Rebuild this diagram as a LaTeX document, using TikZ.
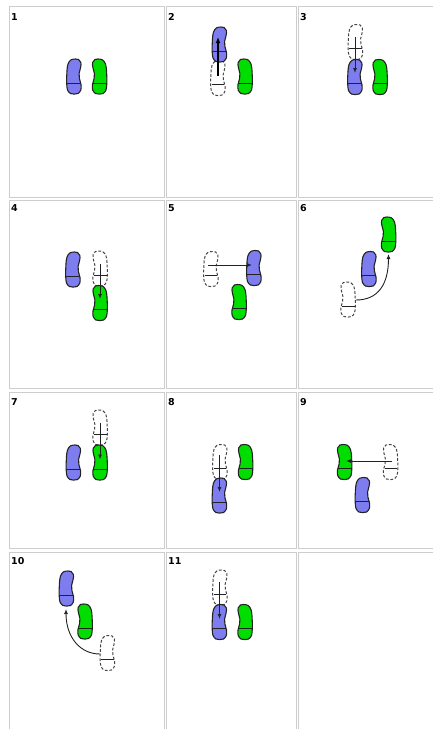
\documentclass[tikz,border=0pt]{standalone}
\usepackage{fontspec}
\setsansfont{DejaVu Sans}
\usetikzlibrary{arrows.meta,calc}
\definecolor{leftblue}{RGB}{125,125,240}
\definecolor{rightgreen}{RGB}{0,222,0}
\definecolor{gridgray}{RGB}{205,205,205}
\definecolor{inkgray}{RGB}{35,35,35}
\tikzset{
  soleshape/.style={insert path={plot[smooth cycle, tension=0.6] coordinates {(-1.5,-17.5) (3,-16.6) (6,-12.5) (7,-6) (7.3,0) (7.3,7) (6.5,13.5) (3.5,17) (0,17.6) (-4,17) (-6.8,13.5) (-7,8) (-5.4,2) (-5.1,-3) (-6.6,-9) (-6.9,-14) (-4.6,-17)}}},
  pics/sole/.style={code={
    \fill[#1, soleshape];
    \begin{scope}
      \clip[soleshape];
      \draw[heelline] (-8,6.5) -- (8,6.5);
    \end{scope}
    \draw[footline, soleshape];
  }},
  pics/ghost/.style={code={
    \draw[ghostline, soleshape];
    \draw[heelline] (-6,6.5) -- (6.5,6.5);
  }}
}
\begin{document}
\begin{tikzpicture}[x=1pt, y=-1pt,
    cellbox/.style={draw=gridgray, line width=1pt},
    steplabel/.style={anchor=north west, inner sep=0pt, font=\sffamily\bfseries\fontsize{9.5}{10}\selectfont},
    footline/.style={draw=inkgray, line width=1.1pt},
    heelline/.style={draw=inkgray, line width=0.8pt},
    ghostline/.style={draw=inkgray!85, line width=1pt, dash pattern=on 2.8pt off 1.8pt},
    stepmove/.style={draw=inkgray, line width=0.9pt, -{Latex[length=5pt,width=4pt]}},
    stepmovebold/.style={draw=black, line width=1.8pt, -{Latex[length=6pt,width=5pt]}}]
   \useasboundingbox (0,0) rectangle (433,729);
   \clip (0,0) rectangle (433,729);
   \fill[white] (0,0) rectangle (433,729);
   % table cells
   \draw[cellbox] (9.5,6.5) rectangle (164.5,197.5);
   \draw[cellbox] (166.5,6.5) rectangle (296.5,197.5);
   \draw[cellbox] (298.5,6.5) rectangle (445,197.5);
   \draw[cellbox] (9.5,200.5) rectangle (164.5,388.5);
   \draw[cellbox] (166.5,200.5) rectangle (296.5,388.5);
   \draw[cellbox] (298.5,200.5) rectangle (445,388.5);
   \draw[cellbox] (9.5,392.5) rectangle (164.5,548.5);
   \draw[cellbox] (166.5,392.5) rectangle (296.5,548.5);
   \draw[cellbox] (298.5,392.5) rectangle (445,548.5);
   \draw[cellbox] (9.5,552.5) rectangle (164.5,745);
   \draw[cellbox] (166.5,552.5) rectangle (296.5,745);
   \draw[cellbox] (298.5,552.5) rectangle (445,745);
   % labels
   \node[steplabel] (n1)  at (11,13)  {1};
   \node[steplabel] (n2)  at (168,13) {2};
   \node[steplabel] (n3)  at (300,13) {3};
   \node[steplabel] (n4)  at (11,204)  {4};
   \node[steplabel] (n5)  at (168,204) {5};
   \node[steplabel] (n6)  at (300,204) {6};
   \node[steplabel] (n7)  at (11,398)  {7};
   \node[steplabel] (n8)  at (168,398) {8};
   \node[steplabel] (n9)  at (300,398) {9};
   \node[steplabel] (n10) at (11,557)  {10};
   \node[steplabel] (n11) at (168,557) {11};
   % 1
   \coordinate (b1) at (74,76.5);
   \coordinate (g1) at (99.5,76.5);
   \pic[xscale=-1] at (b1) {sole=leftblue};
   \pic at (g1) {sole=rightgreen};
   % 2
   \coordinate (d2) at (218,78);
   \coordinate (b2) at (219.5,44.5);
   \coordinate (g2) at (245,76.5);
   \pic[xscale=-1] at (d2) {ghost};
   \pic[xscale=-1] at (b2) {sole=leftblue};
   \pic at (g2) {sole=rightgreen};
   \draw[stepmovebold] ($(d2)+(0,-2)$) -- ($(b2)+(-1.5,-7.5)$);
   % 3
   \coordinate (d3) at (355.5,42);
   \coordinate (b3) at (355,77);
   \coordinate (g3) at (380,77);
   \pic[xscale=-1] at (d3) {ghost};
   \pic[xscale=-1] at (b3) {sole=leftblue};
   \pic at (g3) {sole=rightgreen};
   \draw[stepmove] ($(d3)+(-0.5,-5)$) -- ($(b3)+(0,-4)$);
   % 4
   \coordinate (b4) at (73,269.5);
   \coordinate (d4) at (100,268.5);
   \coordinate (g4) at (100,303);
   \pic[xscale=-1] at (b4) {sole=leftblue};
   \pic at (d4) {ghost};
   \pic at (g4) {sole=rightgreen};
   \draw[stepmove] ($(d4)+(0,-5)$) -- ($(g4)+(0,-4)$);
   % 5
   \coordinate (d5) at (211,269);
   \coordinate (b5) at (254,268);
   \coordinate (g5) at (239,302);
   \pic[xscale=-1] at (d5) {ghost};
   \pic[xscale=-1] at (b5) {sole=leftblue};
   \pic at (g5) {sole=rightgreen};
   \draw[stepmove] ($(d5)+(-3,-4)$) -- ($(b5)+(-2,-3)$);
   % 6
   \coordinate (d6) at (348,299.5);
   \coordinate (b6) at (369,269);
   \coordinate (g6) at (388.5,234.5);
   \pic at (d6) {ghost};
   \pic[xscale=-1] at (b6) {sole=leftblue};
   \pic at (g6) {sole=rightgreen};
   \draw[stepmove] ($(d6)+(8,0.5)$) .. controls ($(d6)+(30,0.5)$) and ($(g6)+(0,50)$) .. ($(g6)+(0,19.5)$);
   % 7
   \coordinate (d7) at (100,427.5);
   \coordinate (b7) at (73.5,462.5);
   \coordinate (g7) at (100,462.5);
   \pic at (d7) {ghost};
   \pic[xscale=-1] at (b7) {sole=leftblue};
   \pic at (g7) {sole=rightgreen};
   \draw[stepmove] ($(d7)+(0,-5)$) -- ($(g7)+(0,-3)$);
   % 8
   \coordinate (d8) at (220,462);
   \coordinate (b8) at (219.5,495.5);
   \coordinate (g8) at (245.5,462);
   \pic[xscale=-1] at (d8) {ghost};
   \pic[xscale=-1] at (b8) {sole=leftblue};
   \pic at (g8) {sole=rightgreen};
   \draw[stepmove] ($(d8)+(-0.5,-7)$) -- ($(b8)+(0,-3.5)$);
   % 9
   \coordinate (g9) at (344.5,462);
   \coordinate (d9) at (390.5,462);
   \coordinate (b9) at (362.5,495);
   \pic at (d9) {ghost};
   \pic[xscale=-1] at (b9) {sole=leftblue};
   \pic at (g9) {sole=rightgreen};
   \draw[stepmove] ($(d9)+(1.5,-1)$) -- ($(g9)+(1.5,-1)$);
   % 10
   \coordinate (b10) at (66.5,588.5);
   \coordinate (g10) at (85,621.5);
   \coordinate (d10) at (107.5,653);
   \pic[xscale=-1] at (d10) {ghost};
   \pic[xscale=-1] at (b10) {sole=leftblue};
   \pic at (g10) {sole=rightgreen};
   \draw[stepmove] ($(d10)+(-7.5,1)$) .. controls ($(d10)+(-28,1)$) and ($(b10)+(-0.5,48)$) .. ($(b10)+(-0.5,20.5)$);
   % 11
   \coordinate (d11) at (220,587.5);
   \coordinate (b11) at (219.5,622);
   \coordinate (g11) at (245,622);
   \pic[xscale=-1] at (d11) {ghost};
   \pic[xscale=-1] at (b11) {sole=leftblue};
   \pic at (g11) {sole=rightgreen};
   \draw[stepmove] ($(d11)+(-0.5,-6)$) -- ($(b11)+(0,-3)$);
 \end{tikzpicture}
\end{document}
